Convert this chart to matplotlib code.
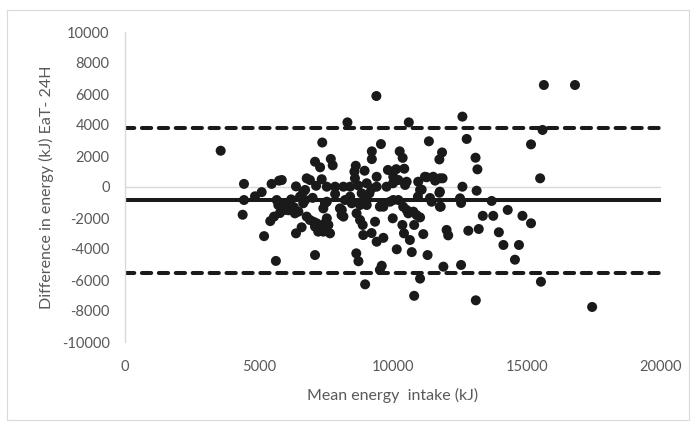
import matplotlib
matplotlib.use("Agg")
import matplotlib.pyplot as plt
from matplotlib.patches import Rectangle

# Mean energy intake (kJ) of both methods, and the EaT - 24H difference (kJ)
mean_intake = [
    3570, 4440, 4440, 4390, 4850, 5100, 5470, 5750, 5190, 5630,
    5420, 5560, 5720, 5970, 6080, 5660, 5850, 5910, 6380, 6530,
    6650, 6720, 6470, 6340, 6780, 6900, 7030, 7090, 7210, 7400,
    7650, 6380, 6590, 6780, 6900, 7090, 7280, 7360, 7090,
    7130, 7340, 6720, 6650, 7530, 7840, 8150, 7840, 8400, 8580,
    9020, 9390, 9760, 10000, 7460, 7400, 7530, 8080, 8020, 8090,
    8150, 7280, 7530, 7590, 7460, 7150, 7680, 7750, 8300, 9380,
    10590, 9550, 9210, 9210, 10250, 10360, 8610, 8560, 8940, 9390,
    9810, 10120, 10420, 10010, 10200, 10510, 10940, 11260, 11190, 11500,
    11750, 11850, 11570, 11070, 10450, 8210, 8460, 8770, 9020, 9510,
    9890, 10200, 10510, 10880, 9020, 9580, 8640, 8770, 8870, 9330,
    8890, 9200, 9390, 9640, 9990, 10350, 10410, 10630, 10790, 11010,
    11130, 10140, 10700, 11290, 8630, 8710, 9580, 9510, 8960, 10790,
    11010, 9640, 10380, 10570, 10760, 11010, 11380, 11750, 11750, 10930,
    10010, 12590, 15580, 11340, 12750, 15150, 11830, 11730, 13080, 13150,
    15490, 11440, 11780, 11730, 12590, 13120, 12500, 12540, 13680, 14280,
    13350, 13740, 14830, 15150, 12000, 12060, 12810, 13200, 13950, 14120,
    14700, 14550, 11880, 12540, 15520, 13090, 15630, 16790, 17430, 5780,
    5970, 6200, 6100, 6300, 8700, 9200, 8400, 8830, 9120, 7000,
]
difference = [
    2340, 200, -840, -1790, -600, -330, 200, 410, -3170, -4770,
    -2200, -1910, -1160, -1380, -1030, -840, 450, -1270, 40, -620,
    -300, -840, -1590, -1700, -1910, -2130, -2240, -2560, -2880, -2880,
    -2990, -2990, -2600, 560, 450, 1630, 1270, 2870, -4390,
    80, 500, -190, -1050, 20, 20, 20, -450, 20, 560,
    240, 20, 20, 240, -1050, -1380, -950, -1810, -1380, -1480,
    -1910, -2660, -2020, -2450, -2340, -2340, 1810, 1400, 4170, 5870,
    4170, 2770, 2300, 1800, 2300, 1880, 1370, 990, 1050, 660,
    1100, 1150, 1180, 660, 450, 340, 340, 630, 660, 660,
    560, 560, 410, -170, 130, -840, -1050, -1160, -840, -1270,
    -950, -840, -1480, -1810, -1160, -1160, -1700, -2130, -2450, -2240,
    -3100, -2970, -3530, -3280, -2020, -2450, -2990, -3420, -2450, -1960,
    -3040, -4020, -4200, -4390, -4280, -4790, -5080, -5350, -6280, -7020,
    -5910, -1270, -1270, -1700, -1590, -190, -710, -300, -1270, -620,
    -840, 4540, 3680, 2950, 3100, 2750, 2230, 1780, 1890, 1140,
    560, -950, -1270, -370, 20, -240, -730, -1030, -900, -1480,
    -1860, -1860, -1860, -2340, -2770, -3120, -2820, -2710, -2920, -3740,
    -3740, -4690, -5140, -5030, -6110, -7310, 6580, 6580, -7740, -1680,
    -1480, -800, -1500, -1300, 100, -100, -620, -410, -410, -700,
]

# Bias and 95% limits of agreement (kJ)
bias = -870
limit_upper = 3830
limit_lower = -5570

x_ticks = [0, 5000, 10000, 15000, 20000]
y_ticks = list(range(-10000, 10001, 2000))

text_color = "#595959"
axis_color = "#d9d9d9"
plt.rcParams["font.family"] = ["Lato", "DejaVu Sans"]
plt.rcParams["axes.unicode_minus"] = False

fig = plt.figure(figsize=(6.97, 4.24), dpi=100)
ax = fig.add_axes([125 / 697, 1 - 342 / 424, 536 / 697, 310 / 424])

# Chart-area frame
fig.patches.append(Rectangle((7 / 697, 4 / 424), 682 / 697, 410 / 424,
                             transform=fig.transFigure, fill=False,
                             edgecolor=axis_color, linewidth=0.8))

# Horizontal axis line crosses at zero
ax.plot([0, 20000], [0, 0], color=axis_color, linewidth=1.0, zorder=1)

line_kw = dict(color="#1a1a1a", linewidth=2.9, zorder=2)
ax.plot([0, 20000], [bias, bias], solid_capstyle="butt", **line_kw)
for lim in (limit_upper, limit_lower):
    ax.plot([0, 20000], [lim, lim], linestyle=(0, (2.3, 1.9)),
            dash_capstyle="round", **line_kw)

ax.scatter(mean_intake, difference, s=52, color="#1a1a1a",
           edgecolors="none", zorder=3)

ax.set_xlim(0, 20000)
ax.set_ylim(-10000, 10000)
ax.set_xticks(x_ticks)
ax.set_yticks(y_ticks)
ax.tick_params(axis="both", length=0, labelsize=10.5, colors=text_color)
ax.tick_params(axis="x", pad=13)
ax.tick_params(axis="y", pad=11)

for side in ("top", "right", "bottom"):
    ax.spines[side].set_visible(False)
ax.spines["left"].set_color(axis_color)
ax.spines["left"].set_linewidth(1.0)

ax.set_xlabel("Mean energy  intake (kJ)", fontsize=11.5, color=text_color,
              labelpad=10)
ax.set_ylabel("Difference in energy (kJ) EaT- 24H", fontsize=11.5,
              color=text_color, labelpad=6)

fig.savefig("out.png", dpi=100)
